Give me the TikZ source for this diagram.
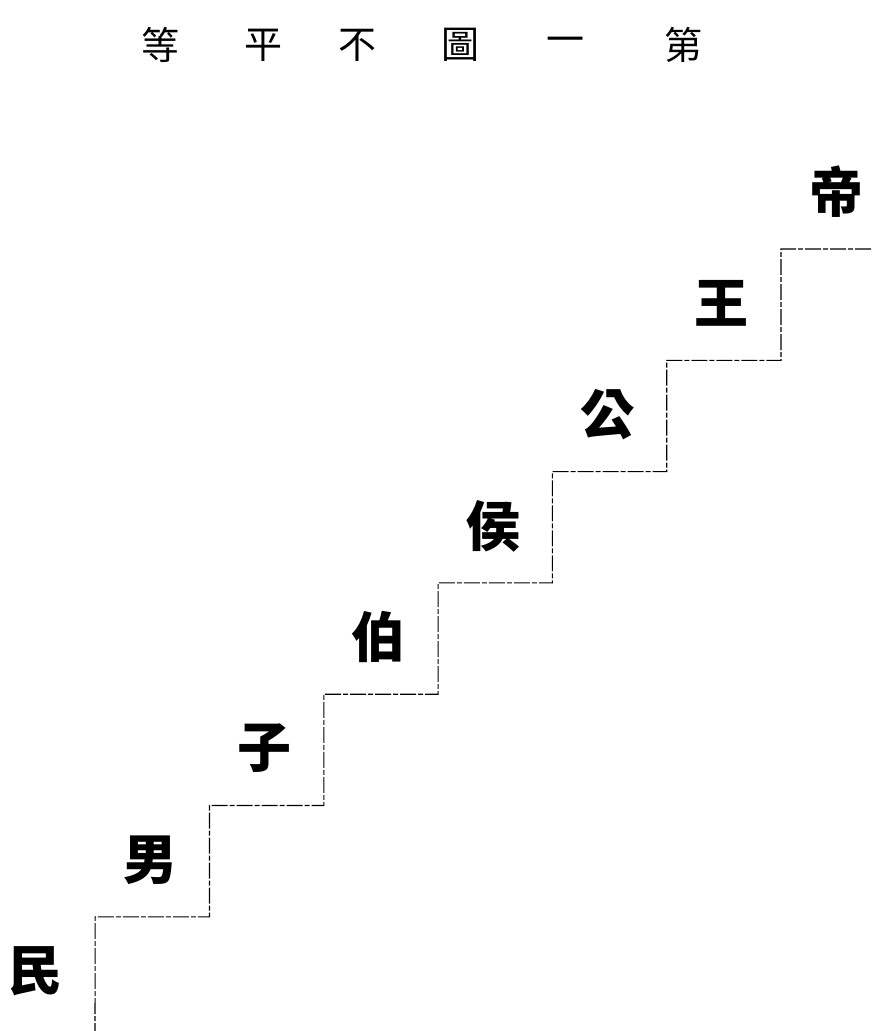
\documentclass[tikz,border=0pt]{standalone}
\usepackage{fontspec}
\newfontfamily\cjk{Noto Sans CJK TC}
\usetikzlibrary{calc}
\tikzset{
    rank/.style={font=\cjk\bfseries\fontsize{54}{54}\selectfont, inner sep=0pt},
    heading/.style={font=\cjk\fontsize{38}{38}\selectfont, inner sep=0pt},
    stairline/.style={line width=1.1pt, dash pattern=on 16pt off 2pt on 5pt off 2pt}
}

\begin{document}
\begin{tikzpicture}[x=1pt, y=-1pt]
    \useasboundingbox (0,0) rectangle (871,1031);

    % Define the size of one step
    \def\stepw{114.3}
    \def\steph{111.3}

    % Title, read from right to left
    \foreach \t/\x [count=\i] in {等/160,平/263,不/357,圖/460,一/565,第/683}{
        \node[heading] (title\i) at (\x,45) {\t};
    }

    % Corners of the steps
    \foreach \i in {0,...,7}{
        \coordinate (c\i) at ({781-\stepw*\i},{249+\steph*\i});
    }
    \coordinate (top) at (871,249);
    \coordinate (bottom) at (95,1031);

    % Draw the staircase
    \draw[stairline] (top) -- (c0)
        foreach \i in {1,...,6}{ |- (c\i) } -- (bottom);

    % Put one rank on each step
    \foreach \r [count=\i from 0] in {帝,王,公,侯,伯,子,男,民}{
        \node[rank] (rank\i) at ($(c\i)+(55,-57)$) {\r};
    }

\end{tikzpicture}
\end{document}
